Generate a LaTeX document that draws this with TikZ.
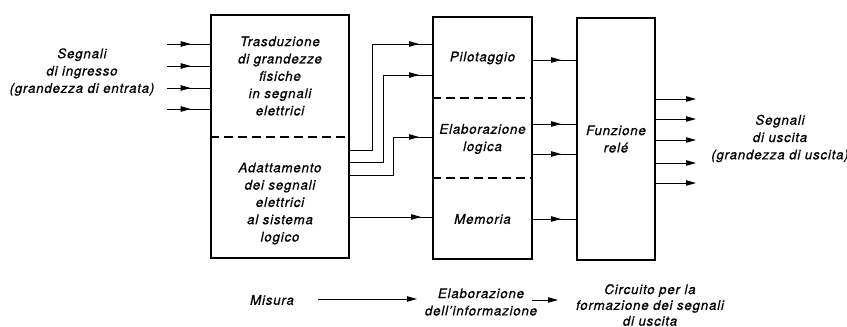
\documentclass[tikz,border=0pt]{standalone}
\usepackage{fontspec}
\setmainfont{TeX Gyre Heros}[LetterSpace=6,FakeBold=0.8]
\usetikzlibrary{arrows.meta,decorations.markings}

\begin{document}
\begin{tikzpicture}[x=1pt,y=-1pt,
  every node/.style={font=\fontsize{13.3}{17.3}\selectfont\itshape, align=center, inner sep=0pt},
  box/.style={draw, rectangle, line width=1.8pt, inner sep=0pt},
  sep/.style={line width=1.8pt, dash pattern=on 9pt off 5pt},
  sig/.style={line width=1pt},
  tip/.style={-{Triangle[length=10pt,width=5.4pt]}},
  midtip/.style={postaction=decorate, decoration={markings,
      mark=at position #1 with {\arrow{Triangle[length=10pt,width=5.4pt]}}}}]

\useasboundingbox (0,0) rectangle (847,327);

% the three function blocks
\node[box, minimum width=138pt, minimum height=243pt] (b1) at (280,136.5) {};
\node[box, minimum width=99pt,  minimum height=242pt] (b2) at (482.5,138) {};
\node[box, minimum width=78pt,  minimum height=242pt] (b3) at (616,139) {};

% section borders inside the blocks
\draw[sep] (b1.west |- 0,137) -- (b1.east |- 0,137);
\draw[sep] (b2.west |- 0,98)  -- (b2.east |- 0,98);
\draw[sep] (b2.west |- 0,178) -- (b2.east |- 0,178);

% block texts
\node (t1) at (280,76) {Trasduzione\\di grandezze\\fisiche\\in segnali\\elettrici};
\node (t2) at (280,203.5) {Adattamento\\dei segnali\\elettrici\\al sistema\\logico};
\node (p)  at (482.5,58) {Pilotaggio};
\node (el) at (482.5,139) {Elaborazione\\logica};
\node (me) at (482.5,219) {Memoria};
\node (fr) at (616,139) {Funzione\\relé};

% input and output labels
\node (inl)  at (82,72) {Segnali\\di ingresso\\(grandezza di entrata)};
\node (outl) at (780,138.5) {Segnali\\di uscita\\(grandezza di uscita)};

% input signals
\foreach \y [count=\i] in {44,66,88,109} {
  \coordinate (in\i) at (167,\y);
  \draw[sig, midtip=0.55] (in\i) -- (in\i -| b1.west);
}

% adapted signals into the logic block
\coordinate (k1) at (372,44);
\coordinate (k2) at (383,75);
\coordinate (k3) at (393,137);
\draw[sig] (b1.east |- 0,150) -| (k1);
\draw[sig, midtip=-13pt] (k1) -- (k1 -| b2.west);
\draw[sig] (b1.east |- 0,162) -| (k2);
\draw[sig, midtip=-13pt] (k2) -- (k2 -| b2.west);
\draw[sig] (b1.east |- 0,175) -| (k3);
\draw[sig, midtip=-13pt] (k3) -- (k3 -| b2.west);
\draw[sig, midtip=-11pt] (b1.east |- 0,217) -- (b2.west |- 0,217);

% logic block to relay block
\foreach \y in {60,124,154,219}
  \draw[sig, midtip=-15pt] (b2.east |- 0,\y) -- (b3.west |- 0,\y);

% output signals
\foreach \y [count=\i] in {99,119,140,163,183} {
  \coordinate (out\i) at (696,\y);
  \draw[sig, tip] (b3.east |- out\i) -- (out\i);
}

% bottom legend
\node (mis)  at (272,300) {Misura};
\node (elab) at (481,302) {Elaborazione\\dell'informazione};
\node[font=\fontsize{13.3}{15.8}\selectfont\itshape] (circ) at (650,305) {Circuito per la\\formazione dei segnali\\di uscita};
\coordinate (m1) at (318,299);
\coordinate (m2) at (417,299);
\coordinate (m3) at (532,300);
\coordinate (m4) at (558,300);
\draw[sig, tip] (m1) -- (m2);
\draw[sig, tip] (m3) -- (m4);
\end{tikzpicture}
\end{document}
